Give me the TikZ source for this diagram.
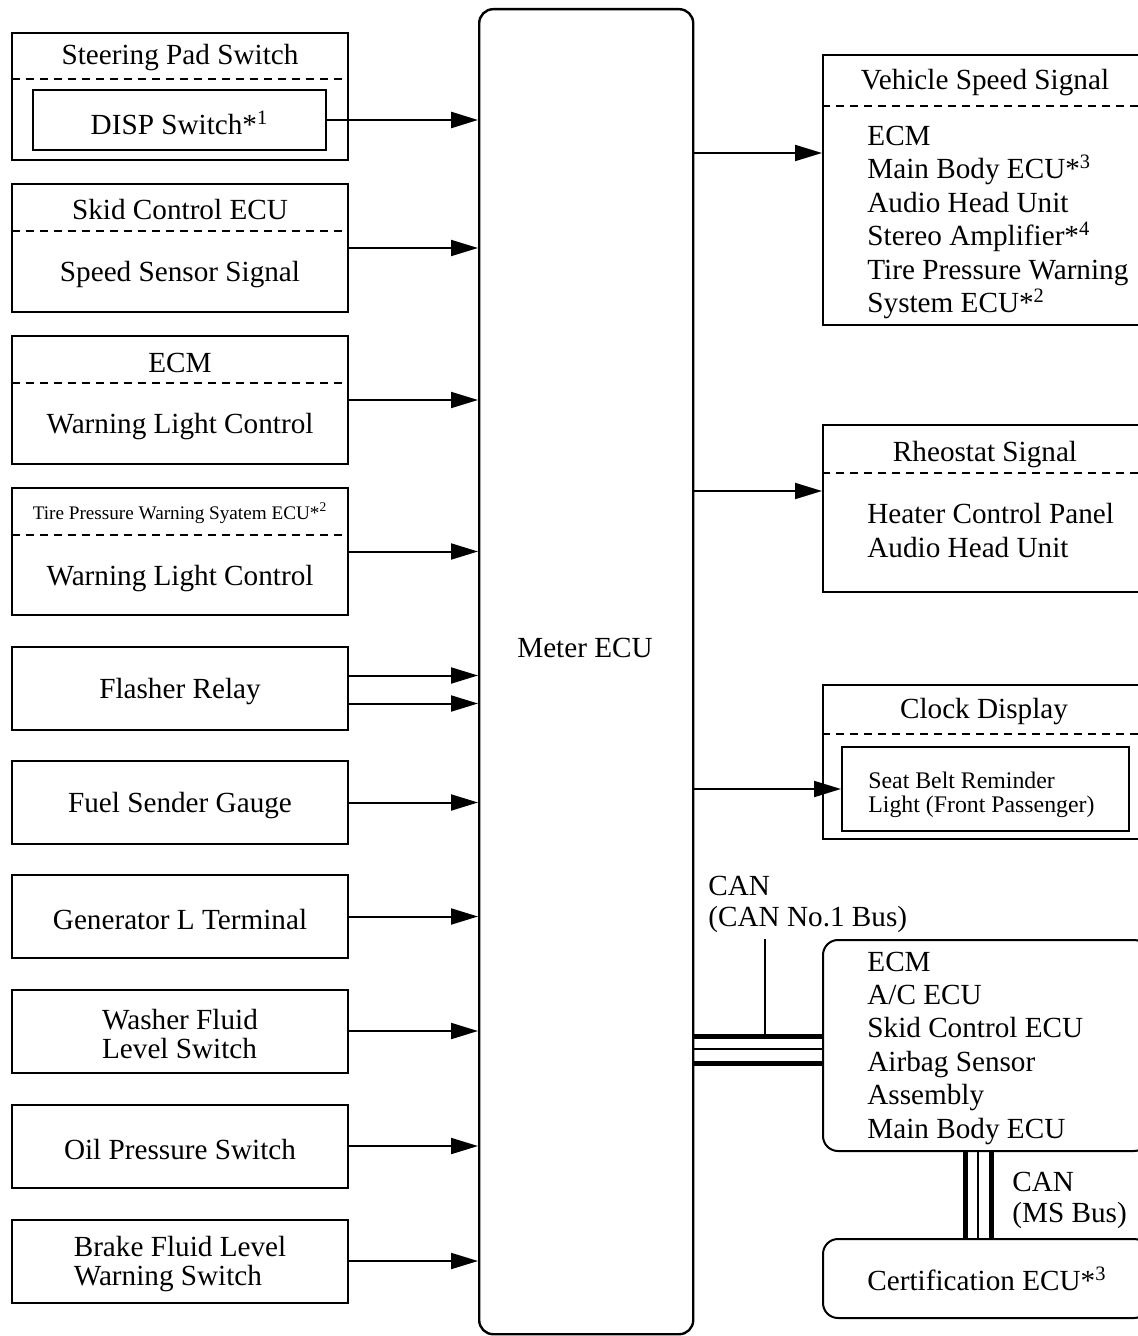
\documentclass[tikz,border=0pt]{standalone}
\usepackage{fontspec}
\setmainfont{Liberation Serif}
\usetikzlibrary{arrows.meta}

\tikzset{
  box/.style={draw,line width=1pt,inner sep=0pt},
  lbox/.style={box,minimum width=168pt},
  rbox/.style={box,minimum width=163pt,anchor=north west},
  canbox/.style={rbox,rounded corners=7.5pt},
  sep/.style={line width=0.8pt,dash pattern=on 4pt off 3pt},
  lbl/.style={inner sep=0pt,yshift=-1.5pt,font=\fontsize{14.6}{16.7}\selectfont},
  lst/.style={lbl,align=left,anchor=west},
  sig/.style={line width=1pt,-{Triangle[length=13.5pt,width=8pt]}},
  canwire/.style={line width=2.5pt},
  canmid/.style={line width=0.8pt},
}

\begin{document}
\begin{tikzpicture}[x=0.5pt,y=-0.5pt]
\useasboundingbox (0,0) rectangle (1137,1336);

% meter ECU
\node[box,line width=1.2pt,rounded corners=7pt,minimum width=107pt,minimum height=662.5pt,anchor=north west] (meter) at (478,8) {};
\node[lbl] (metertxt) at (585,645) {Meter ECU};

% inputs, left column
\node[lbox,minimum height=63.75pt] (steer) at (180,96.5) {};
\draw[sep] (12,79) -- (348,79);
\node[lbl] (steerhd) at (180,55) {Steering Pad Switch};
\node[box,minimum width=146.5pt,minimum height=30pt] (disp) at (179.5,120) {};
\node[lbl] (disptxt) at (disp) {DISP Switch*\textsuperscript{1}};
\draw[sig,line width=1.3pt] (disp.east) -- (disp.east -| meter.west);

\node[lbox,minimum height=63.75pt] (skid) at (180,248) {};
\draw[sep] (12,231) -- (348,231);
\node[lbl] (skidhd) at (180,207) {Skid Control ECU};
\node[lbl] (skidtxt) at (180,272) {Speed Sensor Signal};
\draw[sig] (skid.east) -- (skid.east -| meter.west);

\node[lbox,minimum height=63.75pt] (ecm) at (180,400) {};
\draw[sep] (12,383) -- (348,383);
\node[lbl] (ecmhd) at (180,360) {ECM};
\node[lbl] (ecmtxt) at (180,424) {Warning Light Control};
\draw[sig] (ecm.east) -- (ecm.east -| meter.west);

\node[lbox,minimum height=63.75pt] (tpws) at (180,551.5) {};
\draw[sep] (12,535) -- (348,535);
\node[lbl,font=\fontsize{9.6}{11}\selectfont] (tpwshd) at (180,510) {Tire Pressure Warning Syatem ECU*\textsuperscript{2}};
\node[lbl] (tpwstxt) at (180,576) {Warning Light Control};
\draw[sig] (tpws.east) -- (tpws.east -| meter.west);

\node[lbox,minimum height=41.5pt] (flash) at (180,688.5) {};
\node[lbl] (flashtxt) at (flash) {Flasher Relay};
\draw[sig] ([yshift=6.5pt]flash.east) -- ([yshift=6.5pt]flash.east -| meter.west);
\draw[sig] ([yshift=-7.5pt]flash.east) -- ([yshift=-7.5pt]flash.east -| meter.west);

\foreach \n/\y/\t in {fuel/802.5/Fuel Sender Gauge,
                      gen/916.5/Generator L Terminal,
                      washer/1031/Washer Fluid\\Level Switch,
                      oil/1146/Oil Pressure Switch,
                      brake/1261/Brake Fluid Level\\Warning Switch} {
  \node[lbox,minimum height=41.5pt] (\n) at (180,\y) {};
  \node[lbl,align=left,font=\fontsize{14.6}{14.5}\selectfont] (\n txt) at (\n) {\t};
  \draw[sig] (\n.east) -- (\n.east -| meter.west);
}

% outputs, right column
\node[rbox,minimum height=135pt] (vspd) at (822,54) {};
\draw[sep] (822,106) -- (1148,106);
\node[lbl] (vspdhd) at (985,80) {Vehicle Speed Signal};
\node[lst] (vspdlst) at (867,219.5) {ECM\\Main Body ECU*\textsuperscript{3}\\Audio Head Unit\\Stereo Amplifier*\textsuperscript{4}\\Tire Pressure Warning\\System ECU*\textsuperscript{2}};
\coordinate (vspdin) at (822,153);
\draw[sig] (vspdin -| meter.east) -- (vspdin);

\node[rbox,minimum height=83.5pt] (rheo) at (822,424) {};
\draw[sep] (822,473) -- (1148,473);
\node[lbl] (rheohd) at (985,452) {Rheostat Signal};
\node[lst] (rheolst) at (867,527.5) {Heater Control Panel\\Audio Head Unit};
\coordinate (rheoin) at (822,491);
\draw[sig] (rheoin -| meter.east) -- (rheoin);

\node[rbox,minimum height=77pt] (clock) at (822,684) {};
\draw[sep] (822,734) -- (1148,734);
\node[lbl] (clockhd) at (984,709) {Clock Display};
\node[box,minimum width=143.5pt,minimum height=42pt,anchor=north west] (belt) at (841,746) {};
\node[lst,font=\fontsize{11.9}{12}\selectfont] (belttxt) at (868,792) {Seat Belt Reminder\\Light (Front Passenger)};
\draw[sig] (belt.west -| meter.east) -- (belt.west);

% CAN No.1 bus
\node[canbox,minimum height=105.5pt] (canecu) at (822,939) {};
\node[lst] (canlst) at (867,1045) {ECM\\A/C ECU\\Skid Control ECU\\Airbag Sensor\\Assembly\\Main Body ECU};
\coordinate (canhi) at (765,1036);
\coordinate (canmd) at (765,1049);
\coordinate (canlo) at (765,1063);
\draw[canwire] (canhi -| meter.east) -- (canhi -| canecu.west);
\draw[canmid] (canmd -| meter.east) -- (canmd -| canecu.west);
\draw[canwire] (canlo -| meter.east) -- (canlo -| canecu.west);
\node[lst,font=\fontsize{14.6}{15.5}\selectfont] (canlbl) at (708,901) {CAN\\(CAN No.1 Bus)};
\coordinate (canlead) at (765,939);
\draw[line width=0.7pt] (canlead) -- (canhi);

% MS bus
\node[canbox,minimum height=39.5pt] (cert) at (822,1238) {};
\node[lst] (certtxt) at (867,1276) {Certification ECU*\textsuperscript{3}};
\coordinate (mshi) at (965,1200);
\coordinate (msmd) at (978,1200);
\coordinate (mslo) at (991.5,1200);
\draw[canwire] (mshi |- canecu.south) -- (mshi |- cert.north);
\draw[canmid] (msmd |- canecu.south) -- (msmd |- cert.north);
\draw[canwire] (mslo |- canecu.south) -- (mslo |- cert.north);
\node[lst,font=\fontsize{14.6}{15.5}\selectfont] (mslbl) at (1012,1197.5) {CAN\\(MS Bus)};

\end{tikzpicture}
\end{document}
